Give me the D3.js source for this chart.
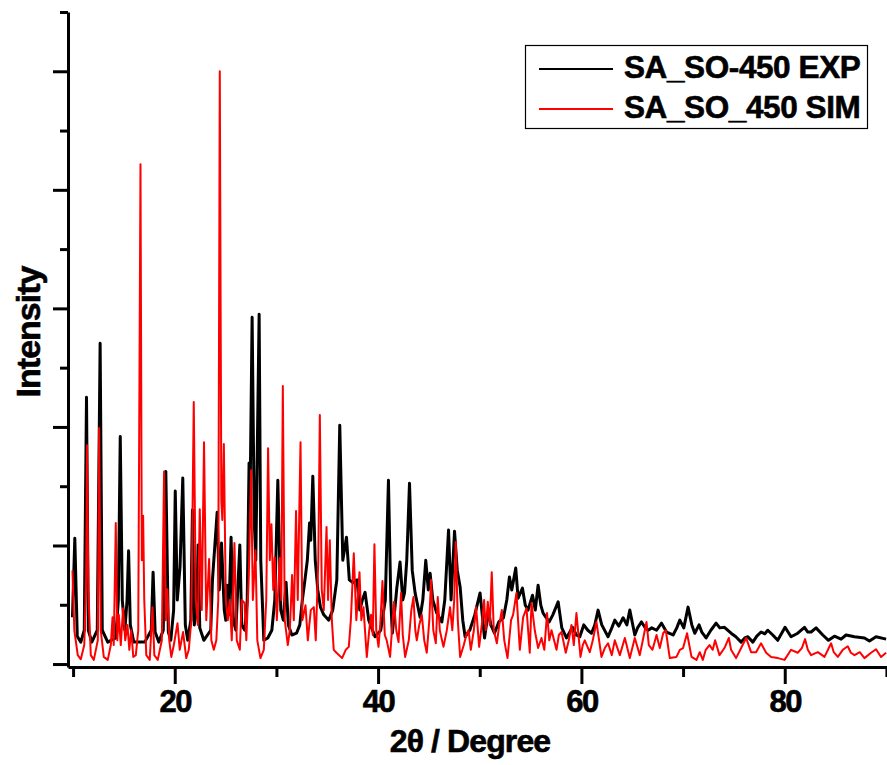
<!DOCTYPE html>
<html>
<head>
<meta charset="utf-8">
<script src="https://cdn.jsdelivr.net/npm/d3@7"></script>
<style>
    body { margin: 0; background: #fff; }
    svg text { font-family: "Liberation Sans", Arial, sans-serif; font-weight: bold; fill: #000; stroke: #000; stroke-width: 0.6px; }
</style>
</head>
<body>
<div id="chart"></div>
<script>
// series names / colours as in the legend
const seriesNames = ["SA_SO-450 EXP", "SA_SO_450 SIM"];
const seriesColors = ["#000000", "#ff0000"];

const xMajorTicks = [20, 40, 60, 80];
const xMinorTicks = [10, 30, 50, 70, 90];
const yMajorTicks = [0, 200, 400, 600, 800, 1000];
const yMinorTicks = [100, 300, 500, 700, 900, 1100];

// [2theta, intensity]
const expData = [
    [9.94,79],[10.17,212],[10.41,47],[10.76,37],[11.10,57],[11.32,450],[11.50,57],[11.84,37],[12.38,57],[12.66,541],
    [12.87,57],[13.41,37],[14.20,44],[14.45,108],[14.64,384],[14.84,108],[15.09,57],[15.31,108],[15.46,191],[15.63,66],
    [15.97,37],[17.05,37],[17.69,57],[17.87,155],[18.07,54],[18.43,37],[18.87,57],[19.12,325],[19.37,54],[19.61,40],
    [19.89,91],[20.05,292],[20.25,108],[20.52,164],[20.79,314],[21.04,66],[21.28,40],[21.58,74],[21.74,260],[21.92,66],
    [22.15,91],[22.30,201],[22.46,61],[22.86,40],[23.54,57],[23.71,142],[24.17,256],[24.38,125],[24.60,204],[24.87,91],
    [25.02,74],[25.17,133],[25.32,83],[25.54,214],[25.76,74],[26.01,57],[26.40,201],[26.59,66],[26.89,57],[27.13,108],
    [27.31,339],[27.43,310],[27.61,585],[27.82,243],[27.97,175],[28.30,590],[28.46,175],[28.76,40],[29.15,44],[29.55,57],
    [29.84,108],[30.14,310],[30.43,91],[30.68,74],[30.95,138],[31.17,66],[31.52,49],[31.98,52],[32.30,66],[32.55,108],
    [32.77,137],[33.04,175],[33.26,238],[33.38,209],[33.58,317],[33.82,175],[34.07,125],[34.33,96],[34.66,83],[35.15,74],
    [35.54,91],[35.94,142],[36.23,403],[36.53,175],[36.89,214],[37.17,142],[37.54,137],[37.93,142],[38.20,91],[38.45,108],
    [38.72,121],[39.08,74],[39.70,46],[40.26,57],[40.71,108],[41.02,310],[41.25,108],[41.40,52],[41.64,91],[41.84,128],
    [42.16,172],[42.43,108],[42.60,120],[42.82,175],[43.09,305],[43.36,158],[43.64,120],[44.13,79],[44.40,108],[44.69,175],
    [44.94,125],[45.12,153],[45.38,108],[45.77,86],[46.27,71],[46.56,108],[46.93,226],[47.18,108],[47.52,224],[47.79,158],
    [48.07,130],[48.33,74],[48.56,46],[49.02,57],[49.51,83],[50.03,120],[50.47,44],[50.86,91],[51.09,66],[51.45,52],
    [51.87,71],[52.33,78],[52.66,108],[52.92,147],[53.15,125],[53.54,162],[53.77,111],[54.20,128],[54.48,99],[54.75,91],
    [55.19,116],[55.46,91],[55.74,133],[56.01,99],[56.23,86],[56.82,71],[57.19,83],[57.71,105],[58.07,61],[58.53,44],
    [59.12,62],[59.50,49],[59.84,46],[60.23,66],[60.63,57],[60.99,52],[61.32,66],[61.64,91],[62.00,66],[62.62,46],
    [62.99,61],[63.28,74],[63.68,64],[64.10,78],[64.47,66],[64.76,91],[65.25,49],[65.55,62],[65.91,71],[66.24,62],
    [66.56,57],[66.92,61],[67.39,57],[67.88,69],[68.37,54],[69.02,49],[69.38,61],[69.68,74],[70.07,61],[70.49,96],
    [70.86,66],[71.15,52],[71.57,66],[71.84,54],[72.26,44],[72.73,57],[73.25,69],[73.61,61],[74.07,62],[74.72,52],
    [75.19,46],[75.71,37],[76.07,44],[76.37,46],[76.86,37],[77.25,47],[77.67,54],[78.04,51],[78.33,57],[78.82,49],
    [79.31,40],[80.03,62],[80.62,46],[81.28,52],[81.94,62],[82.27,54],[82.59,54],[83.08,61],[83.74,49],[84.30,40],
    [84.89,47],[85.54,42],[86.03,49],[86.86,46],[87.84,44],[88.33,39],[88.98,46],[89.97,42]
];

const simData = [
    [9.94,158],[10.12,57],[10.46,15],[10.76,8],[11.10,32],[11.28,142],[11.38,369],[11.50,125],[11.74,15],[12.04,7],
    [12.43,40],[12.56,398],[12.72,57],[13.02,12],[13.41,7],[13.71,32],[13.88,79],[14.00,32],[14.20,238],[14.35,40],
    [14.50,83],[14.69,32],[14.92,94],[15.13,40],[15.35,66],[15.53,24],[15.72,57],[15.92,12],[16.17,15],[16.41,57],
    [16.63,843],[16.76,175],[16.89,250],[17.00,108],[17.20,15],[17.54,7],[17.81,96],[17.99,15],[18.33,7],[18.73,40],
    [18.95,325],[19.12,74],[19.28,126],[19.46,40],[19.66,12],[19.91,32],[20.27,69],[20.49,24],[20.82,54],[21.13,10],
    [21.38,24],[21.63,74],[21.87,442],[22.07,108],[22.27,66],[22.46,261],[22.66,91],[22.88,374],[23.10,74],[23.38,177],
    [23.60,40],[23.84,24],[24.09,40],[24.28,108],[24.43,1000],[24.58,277],[24.68,243],[24.83,371],[25.02,108],[25.22,74],
    [25.41,108],[25.61,40],[25.87,204],[26.10,40],[26.40,24],[26.59,108],[26.86,103],[27.04,40],[27.28,147],[27.51,327],
    [27.68,108],[27.94,192],[28.12,40],[28.43,10],[28.76,24],[29.00,108],[29.18,364],[29.35,175],[29.51,236],[29.69,125],
    [29.84,180],[30.04,74],[30.33,179],[30.48,108],[30.63,469],[30.82,74],[31.12,32],[31.32,57],[31.54,150],[31.71,74],
    [31.93,258],[32.10,108],[32.37,374],[32.55,74],[32.86,99],[33.09,40],[33.38,91],[33.68,96],[33.87,40],[34.12,175],
    [34.27,420],[34.46,125],[34.66,91],[34.93,231],[35.08,108],[35.25,209],[35.45,74],[35.64,24],[35.91,19],[36.46,10],
    [36.82,24],[37.12,29],[37.32,74],[37.61,187],[37.86,74],[38.17,155],[38.35,74],[38.56,96],[38.89,12],[39.13,57],
    [39.31,83],[39.48,49],[39.64,202],[39.82,57],[40.04,29],[40.21,66],[40.43,140],[40.66,49],[40.85,40],[41.18,12],
    [41.40,66],[41.57,105],[41.79,57],[42.01,37],[42.26,120],[42.43,49],[42.66,12],[43.02,40],[43.27,91],[43.48,113],
    [43.66,57],[43.81,40],[44.05,66],[44.30,83],[44.54,40],[44.79,19],[45.04,74],[45.21,142],[45.43,57],[45.68,35],
    [45.87,113],[46.07,57],[46.43,29],[46.76,57],[47.08,96],[47.30,57],[47.49,108],[47.64,206],[47.84,74],[48.07,12],
    [48.43,32],[48.68,49],[48.90,57],[49.12,24],[49.42,57],[49.64,96],[49.94,29],[50.20,66],[50.43,108],[50.59,57],
    [50.79,105],[50.99,66],[51.18,155],[51.38,57],[51.68,35],[51.92,66],[52.17,91],[52.41,40],[52.73,10],[53.08,74],
    [53.28,83],[53.61,120],[53.94,24],[54.27,79],[54.60,94],[54.92,19],[55.09,103],[55.41,57],[55.74,27],[56.07,44],
    [56.35,24],[56.62,86],[56.84,40],[57.06,57],[57.55,24],[57.78,49],[58.04,54],[58.46,19],[58.76,40],[59.02,66],
    [59.25,32],[59.51,86],[59.91,12],[60.13,32],[60.33,40],[60.82,20],[61.12,40],[61.48,71],[61.97,12],[62.30,27],
    [62.62,35],[62.99,15],[63.28,40],[63.78,15],[64.27,44],[64.76,10],[65.25,44],[65.74,15],[66.04,40],[66.40,71],
    [66.63,32],[66.99,24],[67.39,49],[67.71,27],[68.04,52],[68.30,57],[68.69,10],[69.35,12],[69.68,24],[70.00,27],
    [70.39,52],[70.83,12],[71.32,7],[71.64,20],[71.94,7],[72.23,24],[72.60,32],[72.92,24],[73.15,40],[73.58,15],
    [74.07,27],[74.50,44],[74.72,24],[75.21,10],[75.71,27],[76.20,44],[76.69,20],[77.18,20],[77.67,35],[78.17,19],
    [78.66,12],[79.32,10],[79.98,7],[80.62,24],[81.28,19],[81.68,27],[82.00,42],[82.27,24],[82.59,15],[83.25,20],
    [83.91,12],[84.56,35],[84.82,20],[85.22,12],[85.71,24],[86.20,30],[86.50,19],[86.86,15],[87.38,20],[87.84,10],
    [88.49,19],[88.98,25],[89.47,12],[89.97,19]
];

class XrdChart {

    constructor(parentElement, series){
        const vis = this;
        vis.parentElement = parentElement;
        vis.series = series;
        vis.initVis();
    }

    initVis() {
        const vis = this;

        vis.width = 887;
        vis.height = 765;

        vis.svg = d3.select("#" + vis.parentElement).append("svg")
            .attr("width", vis.width)
            .attr("height", vis.height);

        vis.x = d3.scaleLinear().domain([9.5, 90.5]).range([68, 891.5]);
        vis.y = d3.scaleLinear().domain([-5, 1100]).range([667, 12]);

        // clip traces to the plot box
        vis.svg.append("clipPath").attr("id", "plot-clip")
            .append("rect")
            .attr("x", 68).attr("y", 0)
            .attr("width", vis.width - 68).attr("height", 667);

        vis.line = d3.line()
            .x(d => vis.x(d[0]))
            .y(d => vis.y(d[1]));

        vis.svg.append("g")
            .attr("clip-path", "url(#plot-clip)")
            .selectAll("path")
            .data(vis.series)
            .enter().append("path")
            .attr("fill", "none")
            .attr("stroke", d => d.color)
            .attr("stroke-width", d => d.width)
            .attr("stroke-linejoin", "round")
            .attr("d", d => vis.line(d.values));

        // axes (minor ticks are a second axis without labels)
        const xAxisMinor = d3.axisBottom(vis.x).tickValues(xMinorTicks).tickSize(10).tickFormat("");
        const xAxis = d3.axisBottom(vis.x).tickValues(xMajorTicks).tickSize(17).tickSizeOuter(0).tickPadding(6);
        const yAxisMinor = d3.axisLeft(vis.y).tickValues(yMinorTicks).tickSize(8).tickFormat("");
        const yAxis = d3.axisLeft(vis.y).tickValues(yMajorTicks).tickSize(15).tickSizeOuter(0).tickFormat("");

        const gxm = vis.svg.append("g").attr("transform", "translate(0,667)").call(xAxisMinor);
        gxm.select(".domain").remove();
        const gx = vis.svg.append("g").attr("transform", "translate(0,667)").call(xAxis);
        const gym = vis.svg.append("g").attr("transform", "translate(68,0)").call(yAxisMinor);
        gym.select(".domain").remove();
        const gy = vis.svg.append("g").attr("transform", "translate(68,0)").call(yAxis);

        vis.svg.selectAll(".domain, .tick line")
            .attr("stroke", "#000")
            .attr("stroke-width", 3);

        gx.selectAll(".tick text")
            .attr("font-size", 31)
            .attr("letter-spacing", -1.5)
            .attr("font-family", null)
            .attr("fill", "#000");

        // axis titles
        vis.svg.append("text")
            .attr("x", 470)
            .attr("y", 752)
            .attr("text-anchor", "middle")
            .attr("font-size", 32)
            .attr("letter-spacing", -0.9)
            .text("2\u03b8 / Degree");

        vis.svg.append("text")
            .attr("transform", "translate(40,332) rotate(-90)")
            .attr("text-anchor", "middle")
            .attr("font-size", 34)
            .attr("letter-spacing", -1)
            .text("Intensity");

        // legend
        const legend = vis.svg.append("g");
        legend.append("rect")
            .attr("x", 525.5).attr("y", 45.5)
            .attr("width", 342).attr("height", 83)
            .attr("fill", "#fff")
            .attr("stroke", "#000")
            .attr("stroke-width", 1.2);

        const items = legend.selectAll(".item")
            .data(vis.series)
            .enter().append("g")
            .attr("class", "item")
            .attr("transform", (d, i) => "translate(0," + (69 + i * 40) + ")");

        items.append("line")
            .attr("x1", 539).attr("x2", 613)
            .attr("stroke", d => d.color)
            .attr("stroke-width", 2);

        items.append("text")
            .attr("x", 624)
            .attr("y", 9)
            .attr("font-size", 31.5)
            .attr("letter-spacing", -0.4)
            .text(d => d.name);
    }
}

const chart = new XrdChart("chart", [
    {name: seriesNames[0], color: seriesColors[0], width: 3, values: expData},
    {name: seriesNames[1], color: seriesColors[1], width: 2, values: simData}
]);
</script>
</body>
</html>
